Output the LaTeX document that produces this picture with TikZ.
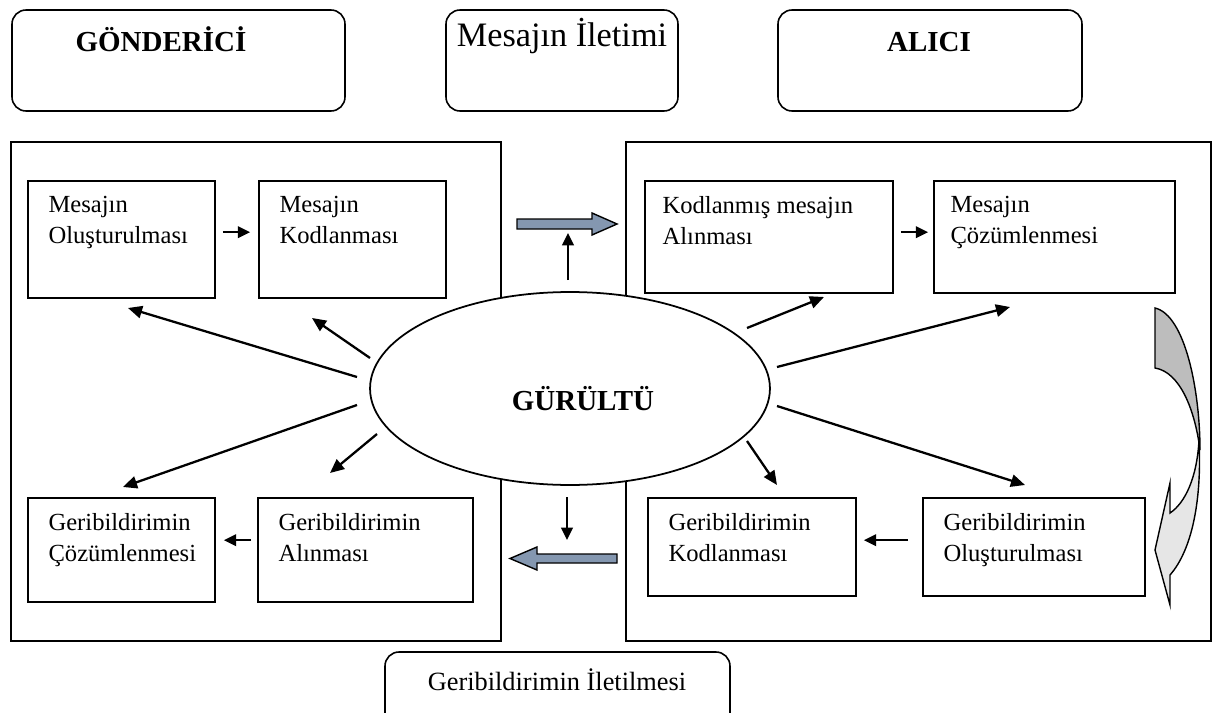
\documentclass[tikz,border=0pt]{standalone}
\usepackage{fontspec}
\setmainfont{Liberation Serif}
\usetikzlibrary{arrows.meta,calc,fit,shapes.geometric}
\definecolor{arrowblue}{HTML}{8497B0}
\definecolor{darkrib}{HTML}{BDBDBD}
\definecolor{lightrib}{HTML}{E6E6E6}
\begin{document}
\begin{tikzpicture}[x=0.02cm,y=-0.02cm,
  frame/.style={draw,line width=0.9pt,inner sep=0pt},
  rbox/.style={draw,line width=0.9pt,rounded corners=8pt,inner sep=0pt},
  box/.style={draw,line width=0.9pt,inner sep=0pt},
  txt/.style={font=\fontsize{14}{17.5}\selectfont,align=left,anchor=north west,inner sep=0pt},
  head/.style={font=\fontsize{16.5}{19}\selectfont\bfseries,anchor=base,inner sep=0pt},
  lab/.style={font=\fontsize{15}{18}\selectfont,anchor=base,inner sep=0pt},
  ray/.style={line width=1.3pt,-{Triangle[length=8pt,width=7pt]}},
  sarr/.style={line width=1.3pt,-{Triangle[length=7pt,width=6.5pt]}},
  blockarr/.style={draw,line width=0.8pt,fill=arrowblue},
]
\clip (0,0) rectangle (1221,713);
\fill[white] (0,0) rectangle (1221,713);

% top labels
\node[rbox, fit={(12,10) (345,111)}] (snd) {};
\node[head] (sndt) at (161,52) {GÖNDERİCİ};
\node[rbox, fit={(446,10) (678,111)}] (msg) {};
\node[lab, font=\fontsize{19.5}{22}\selectfont] (msgt) at (562,47) {Mesajın İletimi};
\node[rbox, fit={(778,10) (1082,111)}] (rcv) {};
\node[head] (rcvt) at (929,52) {ALICI};

% big frames
\node[frame, fit={(11,142) (501,641)}] (lf) {};
\node[frame, fit={(626,142) (1211,641)}] (rf) {};

% left top boxes
\node[box, fit={(28,181) (215,298)}] (b1) {};
\node[txt] (b1t) at ($(b1.north west)+(21,16)$) {Mesajın\\Oluşturulması};
\node[box, fit={(259,181) (446,298)}] (b2) {};
\node[txt] (b2t) at ($(b2.north west)+(21,16)$) {Mesajın\\Kodlanması};

% right top boxes
\node[box, fit={(645,181) (893,293)}] (b3) {};
\node[txt] (b3t) at ($(b3.north west)+(18,16)$) {Kodlanmış mesajın\\Alınması};
\node[box, fit={(934,181) (1175,293)}] (b4) {};
\node[txt] (b4t) at ($(b4.north west)+(17,16)$) {Mesajın\\Çözümlenmesi};

% left bottom boxes
\node[box, fit={(28,498) (215,602)}] (b5) {};
\node[txt] (b5t) at ($(b5.north west)+(21,16)$) {Geribildirimin\\Çözümlenmesi};
\node[box, fit={(258,498) (473,602)}] (b6) {};
\node[txt] (b6t) at ($(b6.north west)+(21,16)$) {Geribildirimin\\Alınması};

% right bottom boxes
\node[box, fit={(648,498) (856,596)}] (b7) {};
\node[txt] (b7t) at ($(b7.north west)+(21,16)$) {Geribildirimin\\Kodlanması};
\node[box, fit={(923,498) (1145,596)}] (b8) {};
\node[txt] (b8t) at ($(b8.north west)+(21,16)$) {Geribildirimin\\Oluşturulması};

% box arrows
\draw[sarr] ($(b1.north east)+(7,52)$) -- ($(b2.north west)+(-8,52)$);
\draw[sarr] ($(b3.north east)+(7,52)$) -- ($(b4.north west)+(-5,52)$);
\draw[sarr] ($(b6.north west)+(-6,43)$) -- ($(b5.north east)+(8,43)$);
\draw[sarr] ($(b8.north west)+(-14,43)$) -- ($(b7.north east)+(7,43)$);

% noise ellipse
\node[draw, ellipse, line width=1pt, fill=white, inner sep=0pt,
      minimum width=8cm, minimum height=3.86cm] (noise) at (570,388.5) {};
\node[head] (noiset) at (583,410) {GÜRÜLTÜ};

% rays
\coordinate (r1s) at (357,377); \coordinate (r1e) at (128,308);
\coordinate (r2s) at (370,358); \coordinate (r2e) at (312,318);
\coordinate (r3s) at (357,405); \coordinate (r3e) at (123,487);
\coordinate (r4s) at (377,434); \coordinate (r4e) at (330,473);
\coordinate (r5s) at (747,328); \coordinate (r5e) at (824,297);
\coordinate (r6s) at (777,367); \coordinate (r6e) at (1010,307);
\coordinate (r7s) at (777,406); \coordinate (r7e) at (1025,485);
\coordinate (r8s) at (747,441); \coordinate (r8e) at (777,485);
\draw[ray] (r1s) -- (r1e);
\draw[ray] (r2s) -- (r2e);
\draw[ray] (r3s) -- (r3e);
\draw[ray] (r4s) -- (r4e);
\draw[ray] (r5s) -- (r5e);
\draw[ray] (r6s) -- (r6e);
\draw[ray] (r7s) -- (r7e);
\draw[ray] (r8s) -- (r8e);

% up / down arrows
\coordinate (us) at (568,280); \coordinate (ue) at (568,233);
\coordinate (ds) at (567,497); \coordinate (de) at (567,540);
\draw[sarr] (us) -- (ue);
\draw[sarr] (ds) -- (de);

% block arrows
\path[blockarr] (517,219) -- (592,219) -- (592,213) -- (617,224) -- (592,235) -- (592,229) -- (517,229) -- cycle;
\path[blockarr] (617,554) -- (537,554) -- (537,547) -- (510,558.5) -- (537,570) -- (537,563) -- (617,563) -- cycle;

% curved ribbon arrow
\path[draw, line width=0.8pt, fill=darkrib] (1155,308) .. controls (1185,315) and (1200,390) .. (1200,450)
   .. controls (1195,410) and (1180,372) .. (1155,368) -- cycle;
\path[draw, line width=0.8pt, fill=lightrib] (1199,440) .. controls (1202,500) and (1192,550) .. (1170,575)
   -- (1170,605) -- (1155,550) -- (1170,483) -- (1170,513)
   .. controls (1185,503) and (1197,478) .. (1199,440) -- cycle;

% bottom label
\node[rbox, fit={(385,652) (730,740)}] (fb) {};
\node[lab] (fbt) at (557,690) {Geribildirimin İletilmesi};
\end{tikzpicture}
\end{document}
